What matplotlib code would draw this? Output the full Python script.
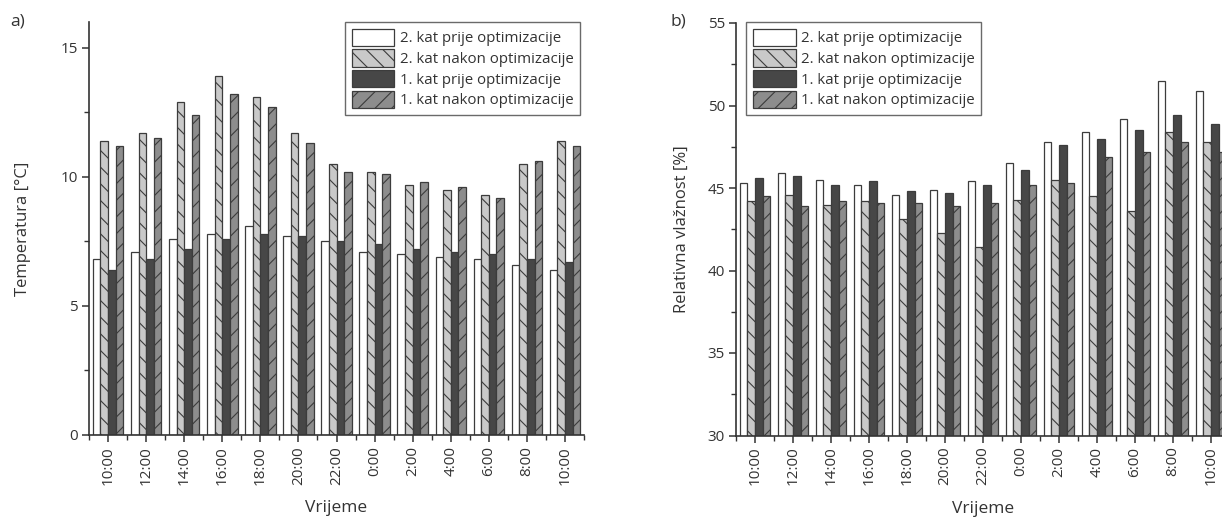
import matplotlib
matplotlib.use("Agg")
import matplotlib.pyplot as plt
import numpy as np
from matplotlib.ticker import MultipleLocator

plt.rcParams['font.family'] = ['Open Sans', 'DejaVu Sans']
plt.rcParams['hatch.linewidth'] = 0.8

times = ["10:00", "12:00", "14:00", "16:00", "18:00", "20:00", "22:00",
         "0:00", "2:00", "4:00", "6:00", "8:00", "10:00"]
series_names = ["2. kat prije optimizacije", "2. kat nakon optimizacije",
                "1. kat prije optimizacije", "1. kat nakon optimizacije"]

# a) Temperature [°C]
temp_k2_prije = [6.8, 7.1, 7.6, 7.8, 8.1, 7.7, 7.5, 7.1, 7.0, 6.9, 6.8, 6.6, 6.4]
temp_k2_nakon = [11.4, 11.7, 12.9, 13.9, 13.1, 11.7, 10.5, 10.2, 9.7, 9.5, 9.3, 10.5, 11.4]
temp_k1_prije = [6.4, 6.8, 7.2, 7.6, 7.8, 7.7, 7.5, 7.4, 7.2, 7.1, 7.0, 6.8, 6.7]
temp_k1_nakon = [11.2, 11.5, 12.4, 13.2, 12.7, 11.3, 10.2, 10.1, 9.8, 9.6, 9.2, 10.6, 11.2]

# b) Relative humidity [%]
rh_k2_prije = [45.3, 45.9, 45.5, 45.2, 44.6, 44.9, 45.4, 46.5, 47.8, 48.4, 49.2, 51.5, 50.9]
rh_k2_nakon = [44.2, 44.6, 44.0, 44.2, 43.1, 42.3, 41.4, 44.3, 45.5, 44.5, 43.6, 48.4, 47.8]
rh_k1_prije = [45.6, 45.7, 45.2, 45.4, 44.8, 44.7, 45.2, 46.1, 47.6, 48.0, 48.5, 49.4, 48.9]
rh_k1_nakon = [44.5, 43.9, 44.2, 44.1, 44.1, 43.9, 44.1, 45.2, 45.3, 46.9, 47.2, 47.8, 47.2]

styles = [
    dict(color="white", hatch=None),
    dict(color="#c9c9c9", hatch="\\\\"),
    dict(color="#474747", hatch=None),
    dict(color="#8d8d8d", hatch="//"),
]
EDGE = "#3c3c3c"
TXT = "#333333"

W, H = 1222, 521
fig = plt.figure(figsize=(W / 100, H / 100), dpi=100)

def px(x0, y_top, x1, y_bot):
    return [x0 / W, 1 - y_bot / H, (x1 - x0) / W, (y_bot - y_top) / H]

ax1 = fig.add_axes(px(89, 22, 584, 435))
ax2 = fig.add_axes(px(736, 23, 1230, 435.5))

def draw(ax, data, ylim, major, minor, ylabel, ylabelpad):
    x = np.arange(len(times))
    bw = 0.2
    offs = [-0.3, -0.1, 0.1, 0.3]
    handles = []
    for vals, st, off, name in zip(data, styles, offs, series_names):
        b = ax.bar(x + off, vals, width=bw, color=st["color"], edgecolor=EDGE,
                   linewidth=0.9, hatch=st["hatch"], label=name, zorder=2)
        handles.append(b)
    ax.set_xlim(-0.5, len(times) - 0.5)
    ax.set_ylim(*ylim)
    ax.set_xticks(x)
    ax.set_xticklabels(times, rotation=90, color=TXT)
    ax.set_xticks(np.arange(-0.5, len(times), 1.0), minor=True)
    ax.yaxis.set_major_locator(MultipleLocator(major))
    ax.yaxis.set_minor_locator(MultipleLocator(minor))
    for s in ["top", "right"]:
        ax.spines[s].set_visible(False)
    for s in ["left", "bottom"]:
        ax.spines[s].set_color(TXT)
        ax.spines[s].set_linewidth(1.2)
    ax.tick_params(which="major", length=5, width=1.1, color=TXT, labelsize=11,
                   labelcolor=TXT, direction="out", pad=3)
    ax.tick_params(which="minor", length=3.5, width=1.0, color=TXT, direction="out")
    ax.set_xlabel("Vrijeme", fontsize=12.5, color=TXT, labelpad=11)
    ax.set_ylabel(ylabel, fontsize=12, color=TXT, labelpad=ylabelpad)
    return handles

h1 = draw(ax1, [temp_k2_prije, temp_k2_nakon, temp_k1_prije, temp_k1_nakon],
          (0, 16), 5, 2.5, "Temperatura [°C]", 21)
h2 = draw(ax2, [rh_k2_prije, rh_k2_nakon, rh_k1_prije, rh_k1_nakon],
          (30, 55), 5, 2.5, "Relativna vlažnost [%]", 13)

leg_kw = dict(fontsize=10.8, handlelength=2.85, handleheight=1.4, labelspacing=0.2,
              handletextpad=0.35, borderpad=0.45, borderaxespad=0, fancybox=False,
              framealpha=1, edgecolor="#6a6a6a", bbox_transform=fig.transFigure,
              labelcolor=TXT)
l1 = ax1.legend(handles=h1, loc="upper right", bbox_to_anchor=(580 / W, 1 - 22 / H), **leg_kw)
l2 = ax2.legend(handles=h2, loc="upper left", bbox_to_anchor=(746 / W, 1 - 22 / H), **leg_kw)
for l in (l1, l2):
    l.get_frame().set_linewidth(1.0)

fig.text(10 / W, 1 - 22 / H, "a)", fontsize=12.5, color=TXT, va="center", ha="left")
fig.text(670 / W, 1 - 22 / H, "b)", fontsize=12.5, color=TXT, va="center", ha="left")

fig.savefig("out.png", dpi=100)
